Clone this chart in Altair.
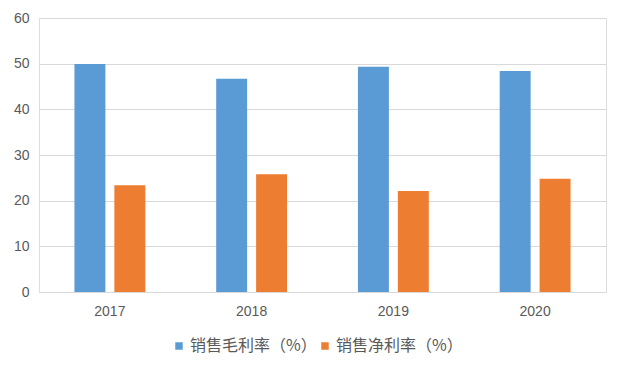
import altair as alt
import pandas as pd

years = ["2017", "2018", "2019", "2020"]
series = ["销售毛利率（%）", "销售净利率（%）"]
gross = [49.9, 46.7, 49.3, 48.4]
net = [23.4, 25.8, 22.1, 24.8]
colors = ["#5B9BD5", "#ED7D31"]

rows = []
for i, y in enumerate(years):
    rows.append({"year": y, "series": series[0], "value": gross[i]})
    rows.append({"year": y, "series": series[1], "value": net[i]})
df = pd.DataFrame(rows)

label_font = "Liberation Sans"
cjk_font = "Noto Sans CJK SC"
grey = "#595959"

chart = alt.Chart(df).mark_bar().encode(
    x=alt.X("year:N", sort=years, title=None,
            scale=alt.Scale(paddingInner=0.5, paddingOuter=0.25),
            axis=alt.Axis(labelAngle=0, ticks=False, domain=True, domainColor="#d9d9d9",
                          labelFont=label_font, labelFontSize=14, labelColor=grey,
                          labelPadding=12, grid=False)),
    xOffset=alt.XOffset("series:N", sort=series,
                        scale=alt.Scale(paddingInner=0.225, paddingOuter=0)),
    y=alt.Y("value:Q", title=None,
            scale=alt.Scale(domain=[0, 60], nice=False),
            axis=alt.Axis(values=[0, 10, 20, 30, 40, 50, 60], ticks=False, domain=False,
                          gridColor="#d9d9d9", gridWidth=1,
                          labelFont=label_font, labelFontSize=14, labelColor=grey,
                          labelPadding=10)),
    color=alt.Color("series:N", sort=series,
                    scale=alt.Scale(domain=series, range=colors),
                    legend=alt.Legend(title=None, orient="none", direction="horizontal",
                                      legendX=132, legendY=320,
                                      symbolType="square", symbolSize=56,
                                      symbolStrokeWidth=0,
                                      labelFont=cjk_font, labelFontSize=16,
                                      labelColor=grey, labelOffset=3,
                                      columnPadding=-8)),
).properties(
    width=567, height=274,
    autosize=alt.AutoSizeParams(type="none"),
    padding={"left": 31, "top": 10, "right": 2, "bottom": 70},
).configure_view(stroke=None).configure(background="white")

chart.save("out.html", embed_options={"renderer": "svg", "actions": False})
